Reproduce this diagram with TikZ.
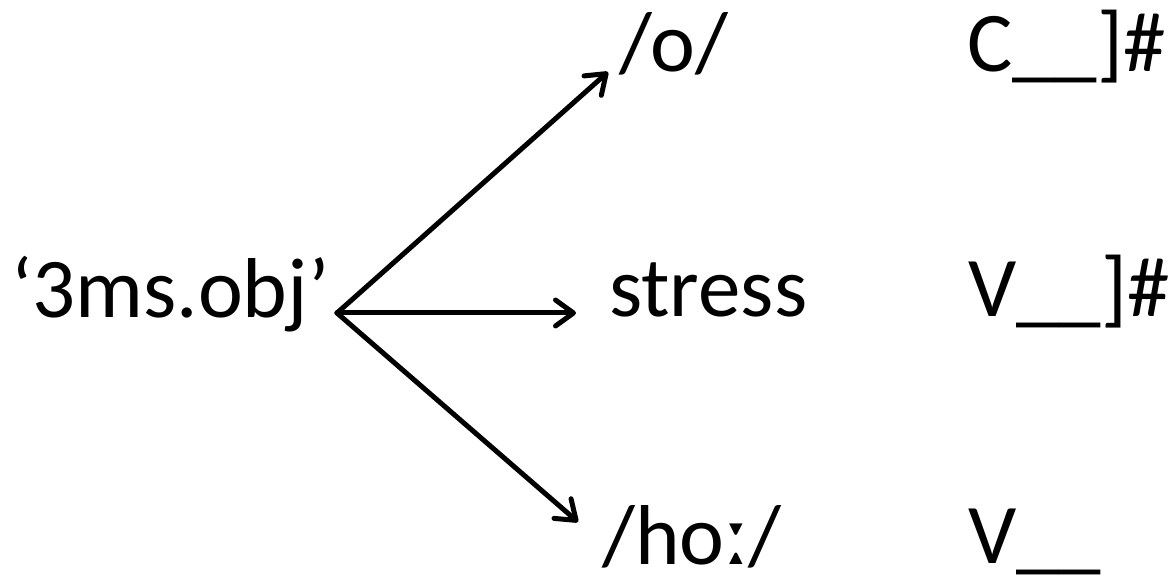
\documentclass[tikz,border=0pt]{standalone}
\usepackage{fontspec}
\setmainfont{Carlito}
\usetikzlibrary{arrows.meta,calc}
\begin{document}
\begin{tikzpicture}[x=1pt,y=-1pt,
  lbl/.style={inner sep=0pt, anchor=base west, font=\fontsize{85}{100}\selectfont},
  arr/.style={line width=5pt, line cap=round,
    -{Straight Barb[length=18pt,width=26pt,line cap=round,line join=round]}}]
\useasboundingbox (0,0) rectangle (1173,577);
\node[lbl] (src) at (11,318) {‘3ms.obj’};
\node[lbl] (o) at (619,72) {/o/};
\node[lbl] (st) at (609,317) {stress};
\node[lbl] (ho) at (602,564) {/hoː/};
\node[lbl] (c1) at (967,72) {C\_\_]\#};
\node[lbl] (c2) at (968,317) {V\_\_]\#};
\node[lbl] (c3) at (968,563) {V\_\_};
\coordinate (hub) at (337,313);
\draw[arr] (hub) -- ($(o.base west)+(-11,0)$);
\draw[arr] (hub) -- ($(st.base west)+(-33,-4)$);
\draw[arr] (hub) -- ($(ho.base west)+(-24,-42)$);
\end{tikzpicture}
\end{document}
